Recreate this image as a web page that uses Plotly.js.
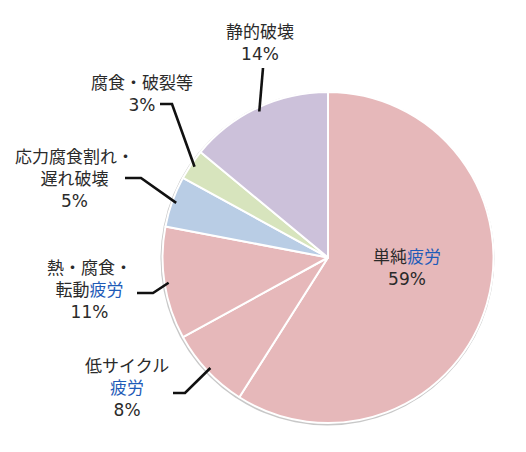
<!DOCTYPE html>
<html>
<head>
<meta charset="utf-8">
<script src="https://cdn.plot.ly/plotly-3.0.1.min.js"></script>
<style>
  html, body { margin: 0; padding: 0; background: #fff; }
  #chart { width: 526px; height: 452px; }
</style>
</head>
<body>
<div id="chart"></div>
<script>
// failure causes, clockwise from 12 o'clock
var labels = ['単純疲労', '低サイクル疲労', '熱・腐食・転動疲労', '応力腐食割れ・遅れ破壊', '腐食・破裂等', '静的破壊'];
var shares = [59, 8, 11, 5, 3, 14];
var displayText = [
  '単純<span style="color:#1f5cb8">疲労</span>',
  '低サイクル<br><span style="color:#1f5cb8">疲労</span>',
  '熱・腐食・<br>転動<span style="color:#1f5cb8">疲労</span>',
  '応力腐食割れ・<br>遅れ破壊',
  '腐食・破裂等',
  '静的破壊'
];
var colors = ['#e6b8ba', '#e6b8ba', '#e6b8ba', '#b9cde5', '#d7e4bd', '#ccc1da'];

var W = 526, H = 452;
var cx = 328, cy = 257.5, R = 165.5;

// label placement (pixels): text centre, elbow start and elbow bend
var place = [
  {tx: 407, ty: 268, inside: true},
  {tx: 127, ty: 388, p0: [173, 393], p1: [185, 393]},
  {tx: 89, ty: 290, p0: [137, 293], p1: [153, 293]},
  {tx: 74, ty: 179, p0: [125, 178], p1: [141, 178]},
  {tx: 142, ty: 94, p0: [160, 104], p1: [172, 104]},
  {tx: 260, ty: 43, p0: null, p1: [263, 68]}
];

function px(x) { return x / W; }
function py(y) { return 1 - y / H; }

var total = shares.reduce(function (a, b) { return a + b; }, 0);
var annotations = [], shapes = [];

// soft grey rim behind the pie
shapes.push({
  type: 'circle', xref: 'paper', yref: 'paper', layer: 'below',
  x0: px(cx - R - 2), x1: px(cx + R + 1),
  y0: py(cy + R + 2.5), y1: py(cy - R - 0.5),
  fillcolor: '#c8c8c8', line: {width: 0}
});

var cum = 0;
shares.forEach(function (v, i) {
  var mid = (cum + v / 2) / total * 2 * Math.PI;
  cum += v;
  var p = place[i];
  var pct = Math.round(v / total * 100) + '%';
  annotations.push({
    xref: 'paper', yref: 'paper', x: px(p.tx), y: py(p.ty),
    xanchor: 'center', yanchor: 'middle', showarrow: false,
    text: displayText[i] + '<br>' + pct, align: 'center'
  });
  if (p.inside) return;
  var tipX = cx + 0.975 * R * Math.sin(mid);
  var tipY = cy - 0.975 * R * Math.cos(mid);
  var path = p.p0 ? 'M' + px(p.p0[0]) + ',' + py(p.p0[1]) + ' L' : 'M';
  path += px(p.p1[0]) + ',' + py(p.p1[1]) + ' L' + px(tipX) + ',' + py(tipY);
  shapes.push({
    type: 'path', xref: 'paper', yref: 'paper', path: path,
    line: {color: '#111', width: 2.6}
  });
});

var trace = {
  type: 'pie',
  labels: labels,
  values: shares,
  sort: false,
  direction: 'clockwise',
  rotation: 0,
  textinfo: 'none',
  hoverinfo: 'label+percent',
  marker: {colors: colors, line: {color: '#ffffff', width: 2}},
  domain: {x: [px(cx - R), px(cx + R)], y: [py(cy + R), py(cy - R)]},
  showlegend: false
};

var layout = {
  width: W,
  height: H,
  margin: {l: 0, r: 0, t: 0, b: 0},
  paper_bgcolor: '#ffffff',
  font: {family: '"DejaVu Sans", "Noto Sans CJK JP", sans-serif', size: 17, color: '#2a2a2a'},
  annotations: annotations,
  shapes: shapes,
  showlegend: false
};

Plotly.newPlot('chart', [trace], layout, {displayModeBar: false, staticPlot: true});
</script>
</body>
</html>
